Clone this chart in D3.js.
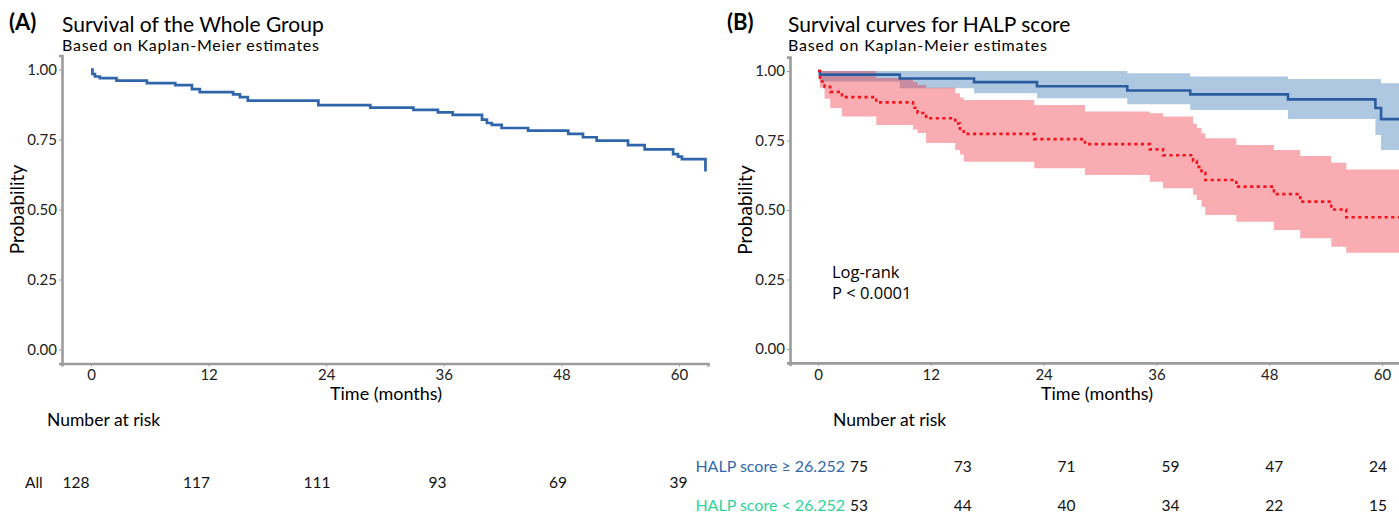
<!DOCTYPE html>
<html>
<head>
<meta charset="utf-8">
<script src="https://cdn.jsdelivr.net/npm/d3@7"></script>
<style>
  body { margin: 0; background: #fff; }
  svg { display: block; font-family: Lato, "Open Sans", sans-serif; }
  .tick text { fill: #222; }
</style>
</head>
<body>
<svg id="chart" width="1399" height="513"></svg>
<script>
// ---- data ----
var timeTicks = [0, 12, 24, 36, 48, 60];
var probTicks = [0, 0.25, 0.5, 0.75, 1];

// (A) whole group
var allTime = [0, 0.15, 0.4, 0.9, 2.6, 5.7, 8.6, 10.3, 11.1, 14.5, 15.2, 16.0, 23.2, 28.5, 32.9, 35.4, 36.9, 39.9, 40.4, 40.9, 41.9, 44.6, 48.7, 50.2, 51.6, 54.8, 56.5, 59.4, 59.9, 60.3, 62.7];
var allSurv = [1, 0.984, 0.975, 0.969, 0.960, 0.951, 0.944, 0.930, 0.919, 0.911, 0.901, 0.889, 0.873, 0.864, 0.856, 0.847, 0.838, 0.821, 0.809, 0.802, 0.791, 0.782, 0.770, 0.758, 0.746, 0.730, 0.715, 0.698, 0.689, 0.680, 0.636];
var allRisk = [128, 117, 111, 93, 69, 39];

// (B) HALP score >= 26.252
var hiTime  = [0, 0.2, 8.7, 16.6, 23.3, 32.9, 39.6, 50.0, 59.3, 59.9, 61.9];
var hiSurv  = [1, 0.987, 0.973, 0.960, 0.945, 0.930, 0.916, 0.898, 0.867, 0.827, 0.827];
var hiUpper = [1, 1, 1, 1, 1, 0.992, 0.980, 0.971, 0.971, 0.956, 0.956];
var hiLower = [1, 0.962, 0.938, 0.920, 0.902, 0.880, 0.860, 0.827, 0.770, 0.716, 0.716];
var hiRisk  = [75, 73, 71, 59, 47, 24];

// (B) HALP score < 26.252
var loTime  = [0, 0.2, 0.7, 1.3, 2.55, 6.2, 10.1, 10.6, 11.5, 14.6, 15.1, 15.5, 23.0, 28.4, 35.3, 36.7, 39.9, 40.3, 40.8, 41.2, 44.5, 48.5, 51.3, 54.6, 56.2, 61.9];
var loSurv  = [1, 0.962, 0.943, 0.925, 0.906, 0.887, 0.868, 0.849, 0.830, 0.811, 0.792, 0.774, 0.755, 0.737, 0.718, 0.697, 0.676, 0.655, 0.634, 0.608, 0.584, 0.557, 0.530, 0.502, 0.474, 0.474];
var loUpper = [1, 1, 1, 1, 1, 0.975, 0.960, 0.950, 0.940, 0.920, 0.905, 0.896, 0.878, 0.854, 0.848, 0.836, 0.810, 0.795, 0.776, 0.758, 0.734, 0.716, 0.694, 0.670, 0.646, 0.646];
var loLower = [1, 0.940, 0.900, 0.867, 0.836, 0.806, 0.790, 0.777, 0.741, 0.716, 0.700, 0.674, 0.650, 0.626, 0.602, 0.578, 0.555, 0.536, 0.512, 0.482, 0.458, 0.428, 0.398, 0.368, 0.346, 0.346];
var loRisk  = [53, 44, 40, 34, 22, 15];

var svg = d3.select("#chart");

function rows(t, s, lo, hi) {
  return t.map(function(d, i) {
    return {t: d, s: s[i], lo: lo ? lo[i] : null, hi: hi ? hi[i] : null};
  });
}

// draw one panel frame: axes, titles, labels
function drawPanel(p) {
  var g = svg.append("g");

  // x scale anchored so that 0 and 60 sit where the picture has them
  var k = (p.x60 - p.x0) / 60;
  var x = d3.scaleLinear()
    .domain([(p.left - p.x0) / k, (p.right - p.x0) / k])
    .range([p.left, p.right]);
  var y = d3.scaleLinear().domain([-0.05, 1.05]).range([p.bottom, p.top]);

  var xAxis = g.append("g")
    .attr("transform", "translate(0," + p.bottom + ")")
    .call(d3.axisBottom(x).tickValues(timeTicks).tickSizeOuter(0).tickSize(3).tickPadding(3));
  var yAxis = g.append("g")
    .attr("transform", "translate(" + p.left + ",0)")
    .call(d3.axisLeft(y).tickValues(probTicks).tickFormat(d3.format(".2f")).tickSizeOuter(0).tickSize(3).tickPadding(2));

  [xAxis, yAxis].forEach(function(a) {
    a.select(".domain").attr("stroke", "#9c9c9c").attr("stroke-width", 2.6);
    a.selectAll(".tick line").attr("stroke", "#9c9c9c").attr("stroke-width", 1);
    a.selectAll(".tick text").attr("font-size", 15).attr("font-family", "Lato");
  });

  g.append("text").attr("x", p.tagX).attr("y", 30)
    .attr("font-size", 22).attr("font-weight", "bold").text(p.tag);
  g.append("text").attr("x", p.titleX).attr("y", 31.5)
    .attr("font-size", 21).text(p.title);
  g.append("text").attr("x", p.titleX).attr("y", 50.5)
    .attr("font-size", 16).attr("textLength", p.subW).attr("lengthAdjust", "spacing")
    .text("Based on Kaplan-Meier estimates");

  g.append("text")
    .attr("transform", "translate(" + p.ylabX + "," + y(0.5) + ") rotate(-90)")
    .attr("text-anchor", "middle").attr("font-size", 19).text("Probability");
  g.append("text").attr("x", p.xlabX).attr("y", 400)
    .attr("text-anchor", "middle").attr("font-size", 18).text("Time (months)");
  g.append("text").attr("x", p.riskTitleX).attr("y", 426)
    .attr("font-size", 17.5).text("Number at risk");

  return {g: g, x: x, y: y};
}

function drawRisk(g, vals, x0, x60, yPos) {
  var rx = d3.scaleLinear().domain([0, 60]).range([x0, x60]);
  g.selectAll(null).data(vals).enter().append("text")
    .attr("x", function(d, i) { return rx(timeTicks[i]); })
    .attr("y", yPos)
    .attr("text-anchor", "middle")
    .attr("font-size", 15.5)
    .attr("fill", "#111")
    .text(function(d) { return d; });
}

// ---- Panel A ----
var A = drawPanel({
  left: 62, right: 708, top: 55.5, bottom: 363.5, x0: 91, x60: 679,
  tag: "(A)", tagX: 9, title: "Survival of the Whole Group", titleX: 62, subW: 257,
  ylabX: 23.5, xlabX: 386, riskTitleX: 47
});

var lineA = d3.line().curve(d3.curveStepAfter)
  .x(function(d) { return A.x(d.t); })
  .y(function(d) { return A.y(d.s); });

A.g.append("path")
  .datum(rows(allTime, allSurv))
  .attr("fill", "none")
  .attr("stroke", "#2f66ab")
  .attr("stroke-width", 2.7)
  .attr("d", lineA);

A.g.append("text").attr("x", 25).attr("y", 488).attr("font-size", 15.5).attr("fill", "#111").text("All");
drawRisk(A.g, allRisk, 76, 678.6, 488);

// ---- Panel B ----
var B = drawPanel({
  left: 790, right: 1410, top: 57.1, bottom: 362.9, x0: 818, x60: 1382,
  tag: "(B)", tagX: 727, title: "Survival curves for HALP score", titleX: 788, subW: 259,
  ylabX: 752, xlabX: 1097, riskTitleX: 833
});

var bandB = d3.area().curve(d3.curveStepAfter)
  .x(function(d) { return B.x(d.t); })
  .y0(function(d) { return B.y(d.lo); })
  .y1(function(d) { return B.y(d.hi); });
var lineB = d3.line().curve(d3.curveStepAfter)
  .x(function(d) { return B.x(d.t); })
  .y(function(d) { return B.y(d.s); });

var hiRows = rows(hiTime, hiSurv, hiLower, hiUpper);
var loRows = rows(loTime, loSurv, loLower, loUpper);

B.g.append("path").datum(hiRows)
  .attr("fill", "rgba(33,102,172,0.36)").attr("d", bandB);
B.g.append("path").datum(loRows)
  .attr("fill", "rgba(238,40,52,0.38)").attr("d", bandB);

B.g.append("path").datum(hiRows)
  .attr("fill", "none").attr("stroke", "#2a5d9f").attr("stroke-width", 2.6)
  .attr("d", lineB);
B.g.append("path").datum(loRows)
  .attr("fill", "none").attr("stroke", "#f4141c").attr("stroke-width", 2.6)
  .attr("stroke-dasharray", "3.2,3.4")
  .attr("d", lineB);

B.g.append("text").attr("x", 832).attr("y", 278).attr("font-size", 16.5)
  .attr("font-family", "Open Sans").text("Log-rank");
B.g.append("text").attr("x", 832).attr("y", 299).attr("font-size", 16.5)
  .attr("font-family", "Open Sans").text("P < 0.0001");

B.g.append("text").attr("x", 845).attr("y", 471.5).attr("text-anchor", "end")
  .attr("font-size", 16).attr("fill", "#3569ad").text("HALP score \u2265 26.252");
B.g.append("text").attr("x", 845).attr("y", 511).attr("text-anchor", "end")
  .attr("font-size", 16).attr("fill", "#2fd49c").text("HALP score < 26.252");
drawRisk(B.g, hiRisk, 859, 1378, 471.5);
drawRisk(B.g, loRisk, 859, 1378, 511);
</script>
</body>
</html>
